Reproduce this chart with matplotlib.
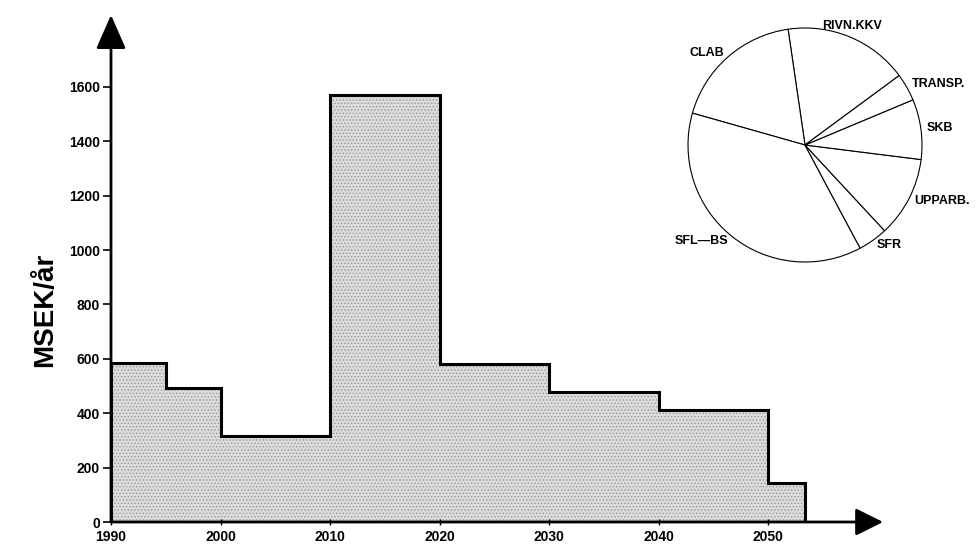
"""
Trappstegsdiagram över årliga kostnader (MSEK/år) med cirkeldiagram över fördelningen.
"""

import matplotlib
matplotlib.use('Agg')
import matplotlib.pyplot as plt

# Kostnader per period
edges = [1990, 1995, 2000, 2010, 2020, 2030, 2040, 2050, 2053.4]
costs = [583, 491, 315, 1570, 580, 478, 413, 145]

y_ticks = [0, 200, 400, 600, 800, 1000, 1200, 1400, 1600]
x_ticks = [1990, 2000, 2010, 2020, 2030, 2040, 2050]

# Fördelning (andelar i procent)
pie_labels = ['RIVN.KKV', 'CLAB', 'SFL\u2014BS', 'SFR', 'UPPARB.', 'SKB', 'TRANSP.']
pie_shares = [17.2, 18.3, 37.2, 4.1, 11.1, 8.3, 3.8]

plt.rcParams['font.family'] = ['Liberation Sans', 'DejaVu Sans']
plt.rcParams['font.weight'] = 'bold'
plt.rcParams['hatch.linewidth'] = 0.6

fig = plt.figure(figsize=(9.8, 5.5), dpi=100)
ax = fig.add_axes([111 / 980, 28 / 550, 772 / 980, 507 / 550])
ax.set_xlim(1990, 2060.5)
ax.set_ylim(0, 1864)

ax.stairs(costs, edges, baseline=0, fill=True, facecolor='#dcdcdc',
          edgecolor='#969696', hatch='.....', linewidth=0)
ax.stairs(costs, edges, baseline=0, fill=False, color='black', linewidth=2.2)

for side in ax.spines.values():
    side.set_visible(False)

arrow_y = dict(arrowstyle='-|>,head_length=0.75,head_width=0.33', lw=2, color='black',
               mutation_scale=28, shrinkA=0, shrinkB=0)
arrow_x = dict(arrowstyle='-|>,head_length=0.6,head_width=0.3', lw=2, color='black',
               mutation_scale=28, shrinkA=0, shrinkB=0)
ax.annotate('', xy=(0, 1), xycoords='axes fraction', xytext=(0, 0), arrowprops=arrow_y)
ax.annotate('', xy=(1, 0), xycoords='axes fraction', xytext=(0, 0), arrowprops=arrow_x)

ax.set_yticks(y_ticks)
ax.set_xticks(x_ticks)
ax.tick_params(axis='y', direction='out', length=6, width=1.2, labelsize=10, pad=2)
ax.tick_params(axis='x', direction='inout', length=5, width=1, labelsize=10, pad=3)
for lbl in ax.get_xticklabels() + ax.get_yticklabels():
    lbl.set_fontweight('bold')

fig.text(45 / 980, 1 - 310 / 550, 'MSEK/år', rotation=90, fontsize=20,
         fontweight='bold', ha='center', va='center')

# Cirkeldiagram
pax = fig.add_axes([688 / 980, 1 - 262 / 550, 234 / 980, 234 / 550])
wedges, texts = pax.pie(pie_shares, labels=pie_labels, startangle=36.4, counterclock=True,
                        labeldistance=1.05,
                        wedgeprops=dict(facecolor='white', edgecolor='black', linewidth=0.8),
                        textprops=dict(fontsize=9, fontweight='bold'))
pax.set_xlim(-1, 1)
pax.set_ylim(-1, 1)
pax.set_aspect('equal')
for t in texts:
    t.set_clip_on(False)
texts[0].set_ha('center')
texts[0].set_va('bottom')

fig.savefig('out.png', dpi=100)
plt.close(fig)
